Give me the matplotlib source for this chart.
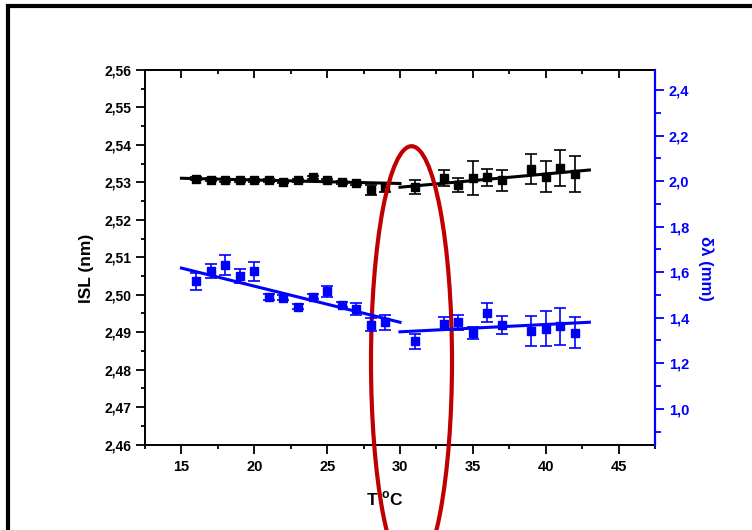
import numpy as np
import matplotlib
matplotlib.use('Agg')
import matplotlib.pyplot as plt
from matplotlib import ticker
from matplotlib.patches import Ellipse, Rectangle

plt.rcParams['font.family'] = ['Liberation Sans', 'DejaVu Sans']
plt.rcParams['font.weight'] = 'bold'
plt.rcParams['mathtext.fontset'] = 'custom'
plt.rcParams['mathtext.rm'] = 'Liberation Sans:bold'
plt.rcParams['mathtext.bf'] = 'Liberation Sans:bold'

# temperatures (T, °C)
temp = [16, 17, 18, 19, 20, 21, 22, 23, 24, 25, 26, 27, 28, 29,
        31, 33, 34, 35, 36, 37, 39, 40, 41, 42]

# ISL (nm), left axis
isl = [2.5309, 2.5307, 2.5305, 2.5306, 2.5305, 2.5306, 2.5302, 2.5305,
       2.5313, 2.5305, 2.5300, 2.5298, 2.5280, 2.5287,
       2.5287, 2.5312, 2.5293, 2.5312, 2.5313, 2.5305, 2.5336, 2.5315,
       2.5339, 2.5322]
isl_err = [0.0004, 0.0004, 0.0004, 0.0004, 0.0004, 0.0004, 0.0004, 0.0004,
           0.0004, 0.0004, 0.0004, 0.0004, 0.0013, 0.0012,
           0.0019, 0.0021, 0.0018, 0.0045, 0.0023, 0.0028, 0.0040, 0.0042,
           0.0048, 0.0049]

# delta lambda (mm), right axis
dl = [1.560, 1.604, 1.633, 1.585, 1.604, 1.491, 1.488, 1.449, 1.493, 1.516,
      1.457, 1.440, 1.370, 1.380,
      1.296, 1.374, 1.380, 1.333, 1.421, 1.367, 1.340, 1.352, 1.362, 1.333]
dl_err = [0.038, 0.031, 0.044, 0.031, 0.042, 0.012, 0.012, 0.010, 0.012, 0.025,
          0.012, 0.026, 0.030, 0.033,
          0.034, 0.027, 0.034, 0.027, 0.042, 0.040, 0.066, 0.077, 0.081, 0.068]

# linear fits (end points)
isl_fit1_x, isl_fit1_y = [15, 30], [2.5311, 2.5297]
isl_fit2_x, isl_fit2_y = [30, 43], [2.5287, 2.5333]
dl_fit1_x, dl_fit1_y = [15, 30], [1.618, 1.380]
dl_fit2_x, dl_fit2_y = [30, 43], [1.338, 1.380]

# red ellipse around the transition (data units of left axis)
ell_center = (30.79, 2.4823)
ell_w, ell_h = 5.56, 0.1147

blue = '#0000FF'

fig = plt.figure(figsize=(7.52, 5.30), dpi=100)
ax = fig.add_axes([0.1928, 0.1613, 0.6782, 0.7066])
ax2 = ax.twinx()

# left data
ax.errorbar(temp, isl, yerr=isl_err, fmt='s', color='black', ms=5.5,
            ecolor='black', elinewidth=1.2, capsize=4, capthick=1.2, zorder=3)
ax.plot(isl_fit1_x, isl_fit1_y, color='black', lw=2.2)
ax.plot(isl_fit2_x, isl_fit2_y, color='black', lw=2.2)

# right data
ax2.errorbar(temp, dl, yerr=dl_err, fmt='s', color=blue, ms=5.5,
             ecolor=blue, elinewidth=1.2, capsize=4, capthick=1.2, zorder=3)
ax2.plot(dl_fit1_x, dl_fit1_y, color=blue, lw=2.2)
ax2.plot(dl_fit2_x, dl_fit2_y, color=blue, lw=2.2)

ax.set_xlim(12.5, 47.5)
ax.set_ylim(2.46, 2.56)
ax2.set_ylim(0.843, 2.488)

ax.xaxis.set_major_locator(ticker.MultipleLocator(5))
ax.xaxis.set_minor_locator(ticker.MultipleLocator(2.5))
ax.yaxis.set_major_locator(ticker.MultipleLocator(0.01))
ax.yaxis.set_minor_locator(ticker.MultipleLocator(0.005))
ax.yaxis.set_major_formatter(ticker.FuncFormatter(lambda v, p: f'{v:.2f}'.replace('.', ',')))
ax2.yaxis.set_major_locator(ticker.MultipleLocator(0.2))
ax2.yaxis.set_minor_locator(ticker.MultipleLocator(0.1))
ax2.yaxis.set_major_formatter(ticker.FuncFormatter(lambda v, p: f'{v:.1f}'.replace('.', ',')))

ax.tick_params(axis='both', which='major', direction='out', length=6.5, width=1.3)
ax.tick_params(axis='both', which='minor', direction='out', length=3, width=1.3)
ax.tick_params(axis='x', labelsize=10.5, pad=5)
ax.tick_params(axis='y', labelsize=10)
ax2.tick_params(axis='y', which='major', direction='out', length=6.5, width=1.3,
                colors=blue, labelsize=10.5)
ax2.tick_params(axis='y', which='minor', direction='out', length=4, width=1.3, colors=blue)

top = ax.secondary_xaxis('top')
top.xaxis.set_major_locator(ticker.MultipleLocator(5))
top.xaxis.set_minor_locator(ticker.MultipleLocator(2.5))
top.tick_params(which='major', direction='in', length=6, width=1.3, labeltop=False)
top.tick_params(which='minor', direction='in', length=3, width=1.3)
top.spines['top'].set_linewidth(1.4)

for s in ['left', 'bottom', 'top']:
    ax.spines[s].set_linewidth(1.4)
ax.spines['right'].set_visible(False)
for s in ['left', 'bottom', 'top']:
    ax2.spines[s].set_visible(False)
ax2.spines['right'].set_color(blue)
ax2.spines['right'].set_linewidth(1.6)

ax.set_ylabel('ISL (nm)', fontsize=12.5, fontweight='bold')
ax.yaxis.set_label_coords(-0.1, 0.47)
ax.set_xlabel(r'T$\;^{\mathrm{o}}$C', fontsize=12.5, fontweight='bold')
ax.xaxis.set_label_coords(0.47, -0.12)
ax2.set_ylabel('δλ (mm)', fontsize=12, fontweight='bold', color=blue, rotation=-90,
               va='center')
ax2.yaxis.set_label_coords(1.1, 0.47)

ell = Ellipse(ell_center, ell_w, ell_h, fill=False, edgecolor='#C00000', lw=3,
              clip_on=False, zorder=5)
ax.add_patch(ell)

# thick frame around the figure (right and bottom edges are cut off)
fig.patches.append(Rectangle((0.01, -0.5), 2.0, 1.4896, transform=fig.transFigure,
                             fill=False, edgecolor='black', lw=3, figure=fig))

fig.savefig('out.png', dpi=100)
